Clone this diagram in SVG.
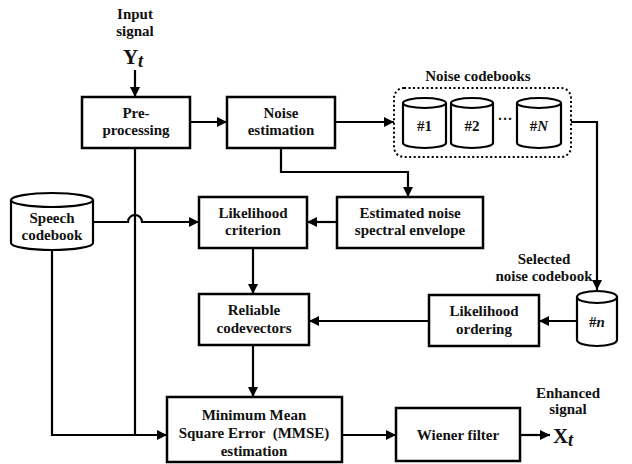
<svg xmlns="http://www.w3.org/2000/svg" width="632" height="464" viewBox="0 0 632 464">
<style>
.box{fill:#fff;stroke:#000;stroke-width:2.5}
.cyl{fill:#fff;stroke:#000;stroke-width:2.2}
.ln{fill:none;stroke:#000;stroke-width:2.2}
text{font-family:"Liberation Serif","Times New Roman",serif;font-weight:bold;font-size:15px;fill:#111;text-anchor:middle}
</style>
<defs>
<marker id="ah" viewBox="0 0 10 10" refX="10" refY="5" markerWidth="10" markerHeight="10" markerUnits="userSpaceOnUse" orient="auto">
<path d="M0,0 L10,5 L0,10 z" fill="#000"/>
</marker>
</defs>
<g id="connectors">
<path class="ln" d="M135,70 V97" marker-end="url(#ah)"/>
<path class="ln" d="M190,122 H227" marker-end="url(#ah)"/>
<path class="ln" d="M335,122 H394" marker-end="url(#ah)"/>
<path class="ln" d="M281,148 V172 H408 V197" marker-end="url(#ah)"/>
<path class="ln" d="M571,122 H597 V290" marker-end="url(#ah)"/>
<path class="ln" d="M337,222 H307" marker-end="url(#ah)"/>
<path class="ln" d="M93,222 H128 A7,7 0 0 1 142,222 H199" marker-end="url(#ah)"/>
<path class="ln" d="M253,248 V294" marker-end="url(#ah)"/>
<path class="ln" d="M577,321 H539" marker-end="url(#ah)"/>
<path class="ln" d="M429,321 H309" marker-end="url(#ah)"/>
<path class="ln" d="M253,345 V397" marker-end="url(#ah)"/>
<path class="ln" d="M135,148 V435"/>
<path class="ln" d="M52,250 V435 H167" marker-end="url(#ah)"/>
<path class="ln" d="M342,435 H396" marker-end="url(#ah)"/>
<path class="ln" d="M520,435 H550" marker-end="url(#ah)"/>
</g>
<g id="input">
<text x="135" y="19">Input</text>
<text x="135" y="36">signal</text>
<text x="133" y="64" style="font-size:21px">Y<tspan style="font-style:italic;font-size:18px" dy="3">t</tspan></text>
</g>
<g id="preprocessing">
<rect class="box" x="82" y="97" width="108" height="51"/>
<text x="136" y="118">Pre-</text>
<text x="136" y="135">processing</text>
</g>
<g id="noise-estimation">
<rect class="box" x="227" y="97" width="108" height="51"/>
<text x="281" y="118">Noise</text>
<text x="281" y="135">estimation</text>
</g>
<g id="noise-codebooks">
<text x="478" y="81">Noise codebooks</text>
<rect x="394" y="88" width="177" height="69" rx="10" fill="none" stroke="#000" stroke-width="2" stroke-dasharray="2,2.5"/>
<path class="cyl" d="M403,103 V143 A21.5,5 0 0 0 446,143 V103 A21.5,5 0 0 0 403,103 A21.5,5 0 0 0 446,103"/>
<text x="424.5" y="131">#1</text>
<path class="cyl" d="M451,103 V143 A21,5 0 0 0 493,143 V103 A21,5 0 0 0 451,103 A21,5 0 0 0 493,103"/>
<text x="472" y="131">#2</text>
<text x="505" y="124">···</text>
<path class="cyl" d="M517,103 V143 A22,5 0 0 0 561,143 V103 A22,5 0 0 0 517,103 A22,5 0 0 0 561,103"/>
<text x="539" y="131">#<tspan font-style="italic">N</tspan></text>
</g>
<g id="speech-codebook">
<path class="cyl" d="M11,200 V243 A41,7 0 0 0 93,243 V200 A41,7 0 0 0 11,200 A41,7 0 0 0 93,200"/>
<text x="52" y="223">Speech</text>
<text x="52" y="240">codebook</text>
</g>
<g id="likelihood-criterion">
<rect class="box" x="199" y="197" width="108" height="51"/>
<text x="253" y="218">Likelihood</text>
<text x="253" y="235">criterion</text>
</g>
<g id="estimated-noise">
<rect class="box" x="337" y="197" width="146" height="51"/>
<text x="410" y="218">Estimated noise</text>
<text x="410" y="235">spectral envelope</text>
</g>
<g id="selected-codebook">
<text x="544" y="264">Selected</text>
<text x="544" y="281">noise codebook</text>
<path class="cyl" d="M577,297 V340 A20,6 0 0 0 617,340 V297 A20,6 0 0 0 577,297 A20,6 0 0 0 617,297"/>
<text x="597" y="327">#<tspan font-style="italic">n</tspan></text>
</g>
<g id="reliable-codevectors">
<rect class="box" x="199" y="294" width="110" height="51"/>
<text x="254" y="315">Reliable</text>
<text x="254" y="333">codevectors</text>
</g>
<g id="likelihood-ordering">
<rect class="box" x="429" y="295" width="110" height="51"/>
<text x="484" y="316">Likelihood</text>
<text x="484" y="334">ordering</text>
</g>
<g id="mmse">
<rect class="box" x="167" y="397" width="175" height="65"/>
<text x="254" y="420">Minimum Mean</text>
<text x="254" y="438">Square Error&#160; (MMSE)</text>
<text x="254" y="456">estimation</text>
</g>
<g id="wiener">
<rect class="box" x="396" y="408" width="124" height="53"/>
<text x="458" y="440">Wiener filter</text>
</g>
<g id="output">
<text x="568" y="398">Enhanced</text>
<text x="568" y="414">signal</text>
<text x="563" y="443" style="font-size:21px">X<tspan style="font-style:italic;font-size:18px" dy="3">t</tspan></text>
</g>
</svg>
